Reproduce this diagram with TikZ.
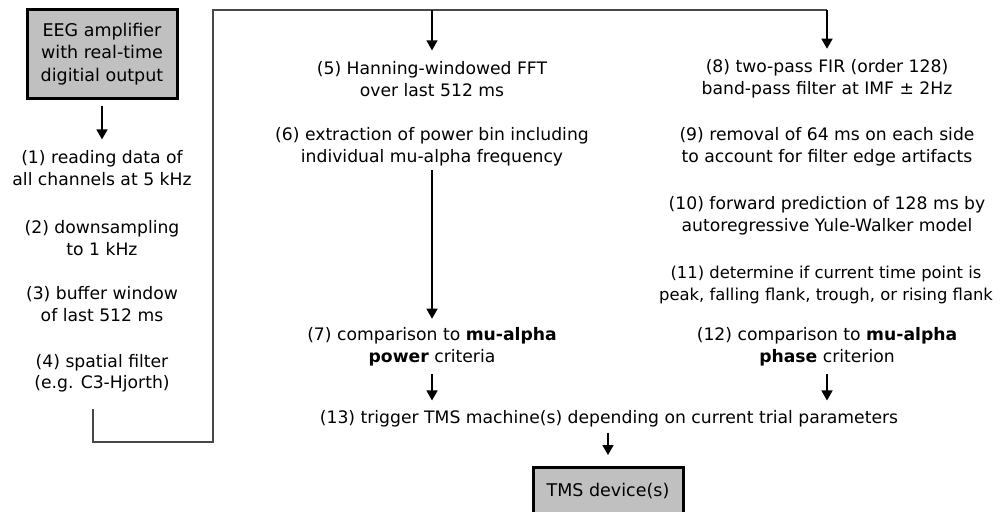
\documentclass[tikz,border=0pt]{standalone}
\usepackage{fontspec}
\setmainfont{DejaVu Sans}
\usetikzlibrary{arrows.meta}
\begin{document}
\begin{tikzpicture}[x=1pt,y=-1pt,
  txt/.style={align=center,inner sep=0pt,font=\fontsize{17.2}{21.5}\selectfont},
  devbox/.style={draw=black,line width=3pt,fill=boxgray,align=center,
    inner sep=0pt,font=\fontsize{17.5}{22.5}\selectfont},
  arr/.style={line width=1.4pt,-{Triangle[width=11pt,length=10pt]}},
  route/.style={line width=2pt,draw=routegray}]
\definecolor{boxgray}{RGB}{192,192,192}
\definecolor{routegray}{RGB}{72,72,72}
\useasboundingbox (0,0) rectangle (1003,511);

% input device
\node[devbox,minimum width=150pt,minimum height=88pt] (amp) at (102,54)
  {EEG amplifier\\with real-time\\digitial output};

% preprocessing column
\node[txt] (s1) at (102,168) {(1) reading data of\\all channels at 5 kHz};
\node[txt] (s2) at (102,238) {(2) downsampling\\to 1 kHz};
\node[txt] (s3) at (102,304) {(3) buffer window\\of last 512 ms};
\node[txt] (s4) at (102,373) {(4) spatial filter\\(e.g. C3-Hjorth)};

% power branch
\node[txt] (s5) at (432,79) {(5) Hanning-windowed FFT\\over last 512 ms};
\node[txt] (s6) at (432,147) {(6) extraction of power bin including\\individual mu-alpha frequency};
\node[txt] (s7) at (432,347) {(7) comparison to \textbf{mu-alpha}\\\textbf{power} criteria};

% phase branch
\node[txt] (s8) at (827,79) {(8) two-pass FIR (order 128)\\band-pass filter at IMF ± 2Hz};
\node[txt] (s9) at (827,147) {(9) removal of 64 ms on each side\\to account for filter edge artifacts};
\node[txt] (s10) at (827,216) {(10) forward prediction of 128 ms by\\autoregressive Yule-Walker model};
\node[txt,font=\fontsize{16.4}{21.5}\selectfont] (s11) at (826,285)
  {(11) determine if current time point is\\peak, falling flank, trough, or rising flank};
\node[txt] (s12) at (827,347) {(12) comparison to \textbf{mu-alpha}\\\textbf{phase} criterion};

% trigger and output device
\node[txt] (s13) at (609,419) {(13) trigger TMS machine(s) depending on current trial parameters};
\node[devbox,minimum width=150pt,minimum height=47pt,anchor=north] (tms) at (608,466)
  {\raisebox{-1pt}{TMS device(s)}};

% routing from the spatial filter to both branches
\coordinate (bl) at (93,442);
\coordinate (br) at (213,442);
\coordinate (tl) at (213,10);
\coordinate (tr) at (827,10);

\draw[arr,shorten <=6pt,shorten >=11pt] (amp.south) -- (s1.north -| amp.south);
\draw[route,shorten <=17pt] (s4.south -| bl) -- (bl) -- (br) -- (tl) -- (tr);
\draw[arr,shorten >=11pt] (tl -| s5) -- (s5.north);
\draw[arr,shorten >=11pt] (tr) -- (s8.north);
\draw[arr,shorten <=4pt,shorten >=9pt] (s6.south) -- (s7.north);
\draw[arr,shorten <=8pt,shorten >=10pt] (s7.south) -- (s13.north -| s7.south);
\draw[arr,shorten <=8pt,shorten >=10pt] (s12.south) -- (s13.north -| s12.south);
\draw[arr,shorten <=5pt,shorten >=11pt] (s13.south -| tms.north) -- (tms.north);
\end{tikzpicture}
\end{document}
